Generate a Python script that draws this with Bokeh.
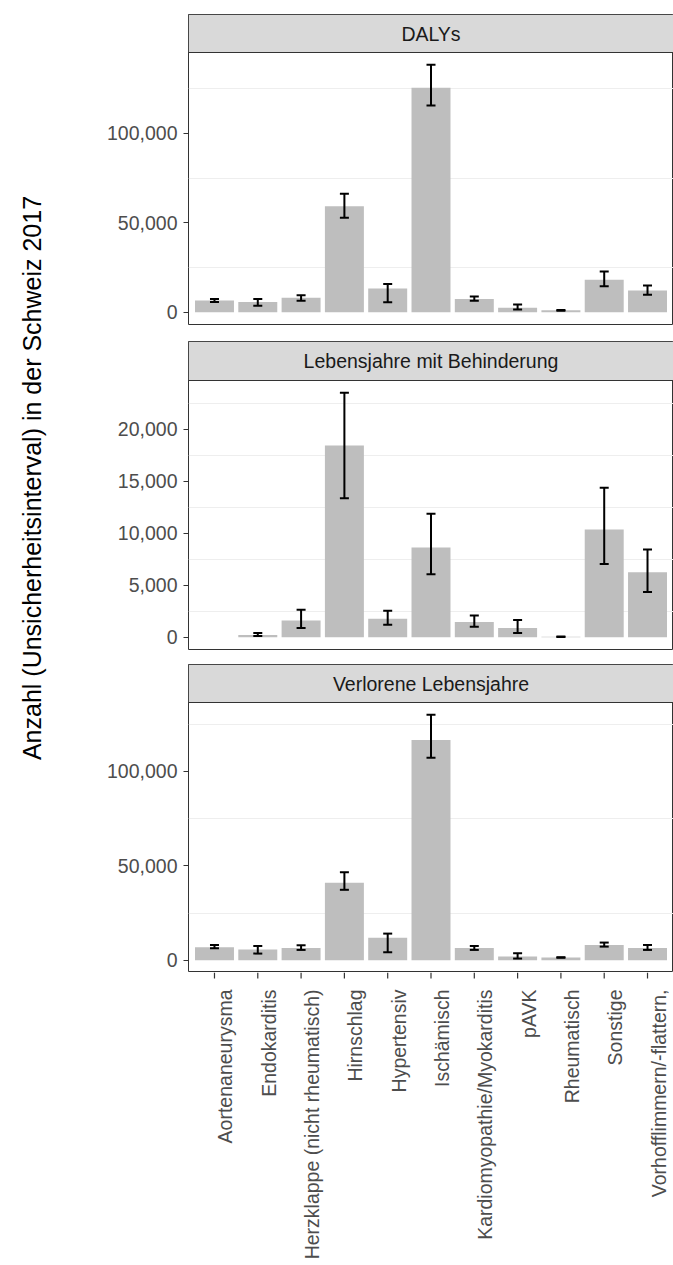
import math
from bokeh.plotting import figure
from bokeh.models import (ColumnDataSource, FactorRange, Range1d, FixedTicker,
                          NumeralTickFormatter, Whisker, TeeHead, BoxAnnotation)
from bokeh.layouts import column, row
from bokeh.embed import file_html
from bokeh.resources import INLINE
from bokeh.core.properties import value

# ---------------- data ----------------
categories = ["Aortenaneurysma", "Endokarditis", "Herzklappe (nicht rheumatisch)",
              "Hirnschlag", "Hypertensiv", "Ischämisch", "Kardiomyopathie/Myokarditis",
              "pAVK", "Rheumatisch", "Sonstige", "Vorhofflimmern/-flattern,"]

daly = [6500, 5700, 8100, 59300, 13200, 125600, 7400, 2500, 1000, 18100, 12100]
daly_lo = [5700, 3600, 6400, 52800, 5500, 115700, 6400, 1500, 800, 14500, 9800]
daly_hi = [7300, 7400, 9400, 66300, 15800, 138400, 8700, 4300, 1200, 22800, 14900]

yld = [None, 220, 1620, 18430, 1790, 8630, 1470, 900, 40, 10350, 6250]
yld_lo = [None, 120, 900, 13370, 1210, 6050, 1020, 420, 20, 7040, 4340]
yld_hi = [None, 420, 2650, 23500, 2550, 11880, 2100, 1660, 70, 14360, 8440]

yll = [6860, 5630, 6510, 41000, 11970, 116700, 6510, 1950, 1410, 8100, 6500]
yll_lo = [6340, 3520, 5460, 37300, 4220, 107300, 5460, 880, 1300, 7220, 5460]
yll_hi = [8080, 7550, 7920, 46600, 14100, 130000, 7550, 3700, 1600, 9350, 8080]

panel_titles = ["DALYs", "Lebensjahre mit Behinderung", "Verlorene Lebensjahre"]
y_title = "Anzahl (Unsicherheitsinterval) in der Schweiz 2017"

ticks_big = [0, 50000, 100000]
minor_big = [25000, 75000, 125000]
ticks_yld = [0, 5000, 10000, 15000, 20000]
minor_yld = [2500, 7500, 12500, 17500, 22500]

# ---------------- style / layout ----------------
FONT = "Liberation Sans"
TW = 68          # width of y-title column
LEFT = 120       # left border of panel figures
FRAME_W = 485
LAB_H = 293
TICK_LEN = 6
BAR_COLOR = "#BEBEBE"
BORDER = "#333333"
TXT = "#4D4D4D"

x_range = FactorRange(*categories, range_padding=0.1, range_padding_units="absolute")
mid_cat = categories[len(categories) // 2]   # sits at the horizontal centre of the frame


def panel(title, vals, lo, hi, ticks, minor, plot_h, strip_h, top, bottom):
    top_val = max(h for h in hi if h is not None)
    y0 = -0.05 * top_val
    y1 = 1.05 * top_val
    per_px = (y1 - y0) / plot_h
    y_end = y1 + strip_h * per_px
    p = figure(x_range=x_range, y_range=Range1d(y0, y_end),
               width=LEFT + FRAME_W, height=top + plot_h + strip_h + bottom,
               output_backend="svg", toolbar_location=None,
               x_axis_location=None,
               min_border_left=LEFT, min_border_right=0,
               min_border_top=top, min_border_bottom=bottom)
    p.outline_line_color = BORDER
    p.outline_line_width = 1
    p.background_fill_color = "white"
    p.border_fill_color = "white"

    tk = FixedTicker(ticks=ticks, minor_ticks=minor)
    p.yaxis.ticker = tk
    p.ygrid.ticker = tk
    p.yaxis.formatter = NumeralTickFormatter(format="0,0")
    p.yaxis.axis_line_color = None
    p.yaxis.major_tick_line_color = BORDER
    p.yaxis.major_tick_line_width = 1.2
    p.yaxis.major_tick_out = 5
    p.yaxis.major_tick_in = 0
    p.yaxis.minor_tick_out = 0
    p.yaxis.minor_tick_in = 0
    p.yaxis.major_label_text_font = FONT
    p.yaxis.major_label_text_font_size = "19.5px"
    p.yaxis.major_label_text_color = TXT
    p.yaxis.major_label_standoff = 6
    p.xgrid.visible = False
    p.ygrid.grid_line_color = None
    p.ygrid.minor_grid_line_color = "#EEEEEE"
    p.ygrid.minor_grid_line_width = 1

    # facet strip (drawn beneath glyphs, above the grid)
    p.add_layout(BoxAnnotation(bottom=y1, top=y_end, fill_color="#D9D9D9",
                               fill_alpha=1.0, line_color=BORDER, line_width=1,
                               line_alpha=1.0, level="underlay"))

    nan = float("nan")
    src = ColumnDataSource(dict(cat=categories,
                                val=[nan if v is None else v for v in vals]))
    p.vbar(x="cat", top="val", bottom=0, width=0.9, source=src,
           fill_color=BAR_COLOR, line_color=None)

    rows = [i for i, v in enumerate(vals) if v is not None]
    esrc = ColumnDataSource(dict(cat=[categories[i] for i in rows],
                                 lo=[lo[i] for i in rows],
                                 hi=[hi[i] for i in rows]))
    w = Whisker(source=esrc, base="cat", upper="hi", lower="lo",
                line_color="black", line_width=2, level="overlay",
                upper_head=TeeHead(size=9, line_color="black", line_width=2),
                lower_head=TeeHead(size=9, line_color="black", line_width=2))
    p.add_layout(w)

    p.text(x=[mid_cat], y=[(y1 + y_end) / 2], text=[title],
           text_align="center", text_baseline="middle",
           text_font=value(FONT), text_font_size="19.5px", text_color="#1A1A1A")
    return p


f1 = panel(panel_titles[0], daly, daly_lo, daly_hi, ticks_big, minor_big,
           272, 38, 14, 8)
f2 = panel(panel_titles[1], yld, yld_lo, yld_hi, ticks_yld, minor_yld,
           269, 39, 9, 8)
f3 = panel(panel_titles[2], yll, yll_lo, yll_hi, ticks_big, minor_big,
           270, 38, 7, 0)

# x-axis ticks + rotated tick labels (top-aligned to the right of each tick, like ggplot vjust=1)
lab = figure(x_range=x_range, y_range=Range1d(0, LAB_H),
             width=LEFT + FRAME_W, height=LAB_H, output_backend="svg",
             toolbar_location=None, x_axis_location=None, y_axis_location=None,
             min_border_left=LEFT, min_border_right=0, min_border_top=0,
             min_border_bottom=0)
lab.outline_line_color = None
lab.grid.visible = False
n = len(categories)
lab.segment(x0=categories, x1=categories, y0=[LAB_H] * n, y1=[LAB_H - TICK_LEN] * n,
            line_color=BORDER, line_width=1.2)
lab.text(x=categories, y=[LAB_H - 17] * n, text=categories,
         angle=math.pi / 2, text_align="right", text_baseline="top",
         text_font=value(FONT), text_font_size="19.5px", text_color=TXT)

panels_h = f1.height + f2.height + f3.height + LAB_H

# y-axis title column
tf = figure(x_range=Range1d(0, TW), y_range=Range1d(0, panels_h),
            width=TW, height=panels_h, output_backend="svg", toolbar_location=None,
            x_axis_location=None, y_axis_location=None,
            min_border_left=0, min_border_right=0, min_border_top=0, min_border_bottom=0)
tf.outline_line_color = None
tf.grid.visible = False
tf.text(x=[31], y=[panels_h - 477.5], text=[y_title], angle=math.pi / 2,
        text_align="center", text_baseline="alphabetic",
        text_font=value(FONT), text_font_size="25px", text_color="black")

layout = row(tf, column(f1, f2, f3, lab))

with open("out.html", "w") as fh:
    fh.write(file_html(layout, INLINE))
